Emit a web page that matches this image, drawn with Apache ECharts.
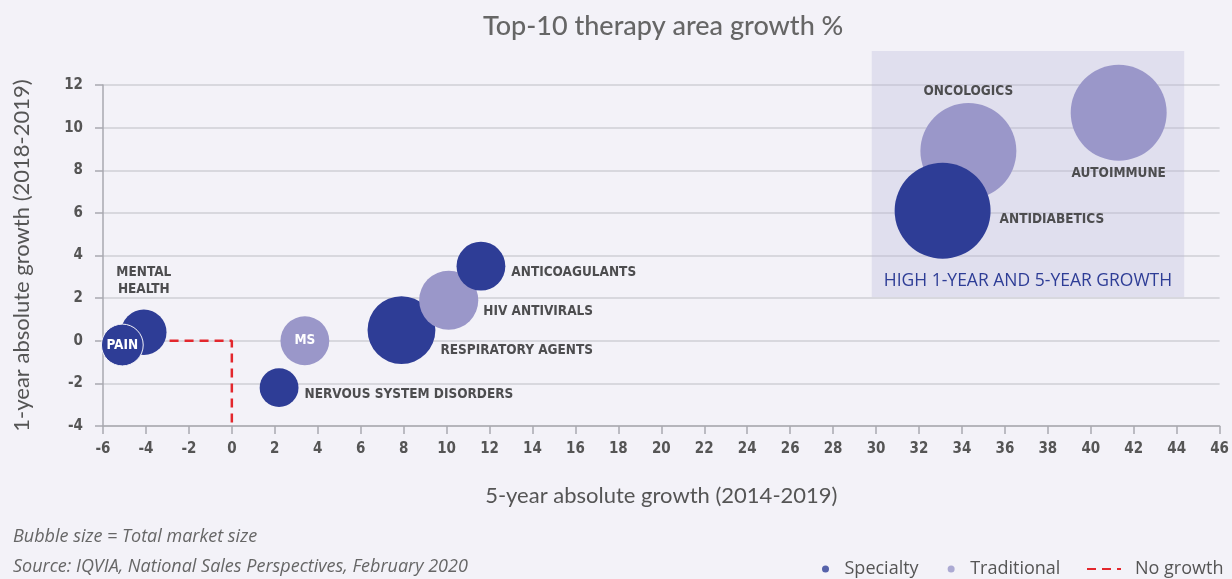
<!DOCTYPE html>
<html>
<head>
<meta charset="utf-8">
<script src="https://cdn.jsdelivr.net/npm/echarts@6/dist/echarts.min.js"></script>
<style>
  html, body { margin: 0; padding: 0; background: #f3f2f8; }
  #chart { width: 1232px; height: 579px; }
</style>
</head>
<body>
<div id="chart"></div>
<script>
// therapy areas, in drawing order (later ones sit on top)
const names = ['MENTAL HEALTH', 'PAIN', 'NERVOUS SYSTEM DISORDERS', 'MS', 'RESPIRATORY AGENTS',
  'HIV ANTIVIRALS', 'ANTICOAGULANTS', 'ONCOLOGICS', 'ANTIDIABETICS', 'AUTOIMMUNE']
const growth5yr = [-4.1, -5.1, 2.2, 3.4, 7.9, 10.1, 11.6, 34.3, 33.1, 41.3] // x
const growth1yr = [0.4, -0.2, -2.2, 0, 0.5, 1.9, 3.5, 8.9, 6.1, 10.7] // y
const marketSize = [13, 11, 9.5, 15, 29, 22, 15, 58, 58, 58] // bubble size
const segment = ['Specialty', 'Specialty', 'Specialty', 'Traditional', 'Specialty',
  'Traditional', 'Specialty', 'Traditional', 'Specialty', 'Traditional']

// no growth reference line
const noGrowthX = [-2.9, 0, 0]
const noGrowthY = [0, 0, -4]

// high growth box corners [x, y]
const highGrowthBox = [[29.8, 13.6], [44.35, 2.05]]

const colors = { Specialty: '#2e3d96', Traditional: '#9a97c9' }
const labelFont = "'Liberation Sans Narrow', 'DejaVu Sans Condensed', sans-serif"
const uiFont = "'Open Sans', sans-serif"
const textGray = '#4d4d4f'

// per-bubble label placement
const labelCfg = {
  'MENTAL HEALTH': { position: 'top', distance: 12, formatter: 'MENTAL\nHEALTH', lineHeight: 17 },
  'PAIN': { position: 'inside', color: '#fff' },
  'NERVOUS SYSTEM DISORDERS': { position: 'right', distance: 6, offset: [0, 7] },
  'MS': { position: 'inside', color: '#fff' },
  'RESPIRATORY AGENTS': { position: 'right', distance: 5, offset: [0, 20] },
  'HIV ANTIVIRALS': { position: 'right', distance: 5, offset: [0, 11] },
  'ANTICOAGULANTS': { position: 'right', distance: 6, offset: [0, 6] },
  'ONCOLOGICS': { position: 'top', distance: 5 },
  'ANTIDIABETICS': { position: 'right', distance: 9, offset: [0, 9] },
  'AUTOIMMUNE': { position: 'bottom', distance: 6 }
}

const bubbleData = names.map((name, i) => {
  return {
    name: name,
    value: [growth5yr[i], growth1yr[i], marketSize[i]],
    itemStyle: {
      color: colors[segment[i]],
      opacity: 1,
      borderColor: name === 'PAIN' ? '#f3f2f8' : 'transparent',
      borderWidth: name === 'PAIN' ? 1 : 0
    },
    label: Object.assign({
      show: true,
      formatter: '{b}',
      color: textGray,
      fontFamily: labelFont,
      fontWeight: 'bold',
      fontSize: 13.5
    }, labelCfg[name])
  }
})

const chart = echarts.init(document.getElementById('chart'))

const option = {
  backgroundColor: '#f3f2f8',
  title: {
    text: 'Top-10 therapy area growth %',
    left: 478,
    top: 8,
    textStyle: { fontFamily: 'Lato', fontWeight: 500, fontSize: 27, color: '#666' }
  },
  grid: { left: 103, right: 11, top: 85, bottom: 153, containLabel: false },
  xAxis: {
    type: 'value',
    min: -6,
    max: 46,
    interval: 2,
    name: '5-year absolute growth (2014-2019)',
    nameLocation: 'middle',
    nameGap: 59,
    nameTextStyle: { fontFamily: 'Lato', fontSize: 22, color: '#555' },
    axisLine: { show: true, onZero: false, lineStyle: { color: '#a9a9b0', width: 1.5 } },
    axisTick: { show: true, length: 8, lineStyle: { color: '#a9a9b0', width: 1.5 } },
    axisLabel: { margin: 16, fontFamily: labelFont, fontWeight: 'bold', fontSize: 15, color: '#555' },
    splitLine: { show: false }
  },
  yAxis: {
    type: 'value',
    min: -4,
    max: 12,
    interval: 2,
    name: '1-year absolute growth (2018-2019)',
    nameLocation: 'middle',
    nameGap: 70,
    nameRotate: 90,
    nameTextStyle: { fontFamily: 'Lato', fontSize: 22, color: '#555' },
    axisLine: { show: true, onZero: false, lineStyle: { color: '#a9a9b0', width: 1.5 } },
    axisTick: { show: true, length: 8, lineStyle: { color: '#a9a9b0', width: 1.5 } },
    axisLabel: { margin: 20, fontFamily: labelFont, fontWeight: 'bold', fontSize: 15, color: '#555' },
    splitLine: { show: true, lineStyle: { color: '#cfcfd6', width: 1.5 } }
  },
  legend: [
    {
      data: ['Specialty', 'Traditional'],
      left: 817,
      top: 555,
      icon: 'circle',
      itemWidth: 28,
      itemHeight: 7,
      itemGap: 29,
      textStyle: { fontFamily: uiFont, fontSize: 18, color: '#555' }
    },
    {
      data: ['No growth'],
      left: 1081,
      top: 555,
      itemWidth: 34,
      itemHeight: 10,
      itemStyle: { color: 'transparent', borderWidth: 0 },
      textStyle: { fontFamily: uiFont, fontSize: 18, color: '#555', padding: [0, 0, 0, 9] }
    }
  ],
  series: [
    {
      name: 'No growth',
      type: 'line',
      symbol: 'none',
      z: 2,
      data: noGrowthX.map((x, i) => [x, noGrowthY[i]]),
      lineStyle: { color: '#e3272d', width: 2.5, type: [9, 6] },
      itemStyle: { color: '#e3272d' }
    },
    {
      name: 'bubbles',
      type: 'scatter',
      z: 3,
      data: bubbleData,
      symbolSize: (val) => 12.6 * Math.sqrt(val[2]),
      emphasis: { disabled: true }
    },
    // legend-only series
    { name: 'Specialty', type: 'scatter', data: [], itemStyle: { color: colors.Specialty } },
    { name: 'Traditional', type: 'scatter', data: [], itemStyle: { color: colors.Traditional } }
  ]
}

chart.setOption(option)

// shaded box reaches above the plot, so draw it as a graphic placed through the axes
const p0 = chart.convertToPixel({ gridIndex: 0 }, highGrowthBox[0])
const p1 = chart.convertToPixel({ gridIndex: 0 }, highGrowthBox[1])
chart.setOption({
  graphic: [
    {
      type: 'rect', z: 1, silent: true,
      shape: { x: p0[0], y: p0[1], width: p1[0] - p0[0], height: p1[1] - p0[1] },
      style: { fill: 'rgba(183,179,215,0.3)' }
    },
    {
      type: 'text', z: 1, silent: true,
      x: (p0[0] + p1[0]) / 2, y: p1[1] - 7,
      style: {
        text: 'HIGH 1-YEAR AND 5-YEAR GROWTH', fill: '#2e3d96',
        font: '17.5px ' + uiFont, align: 'center', verticalAlign: 'bottom'
      }
    },
    {
      type: 'text', left: 13, top: 528,
      style: { text: 'Bubble size = Total market size', fill: '#666', font: 'italic 18px ' + uiFont }
    },
    {
      type: 'text', left: 13, top: 558,
      style: { text: 'Source: IQVIA, National Sales Perspectives, February 2020', fill: '#666', font: 'italic 18px ' + uiFont }
    }
  ]
})
</script>
</body>
</html>
